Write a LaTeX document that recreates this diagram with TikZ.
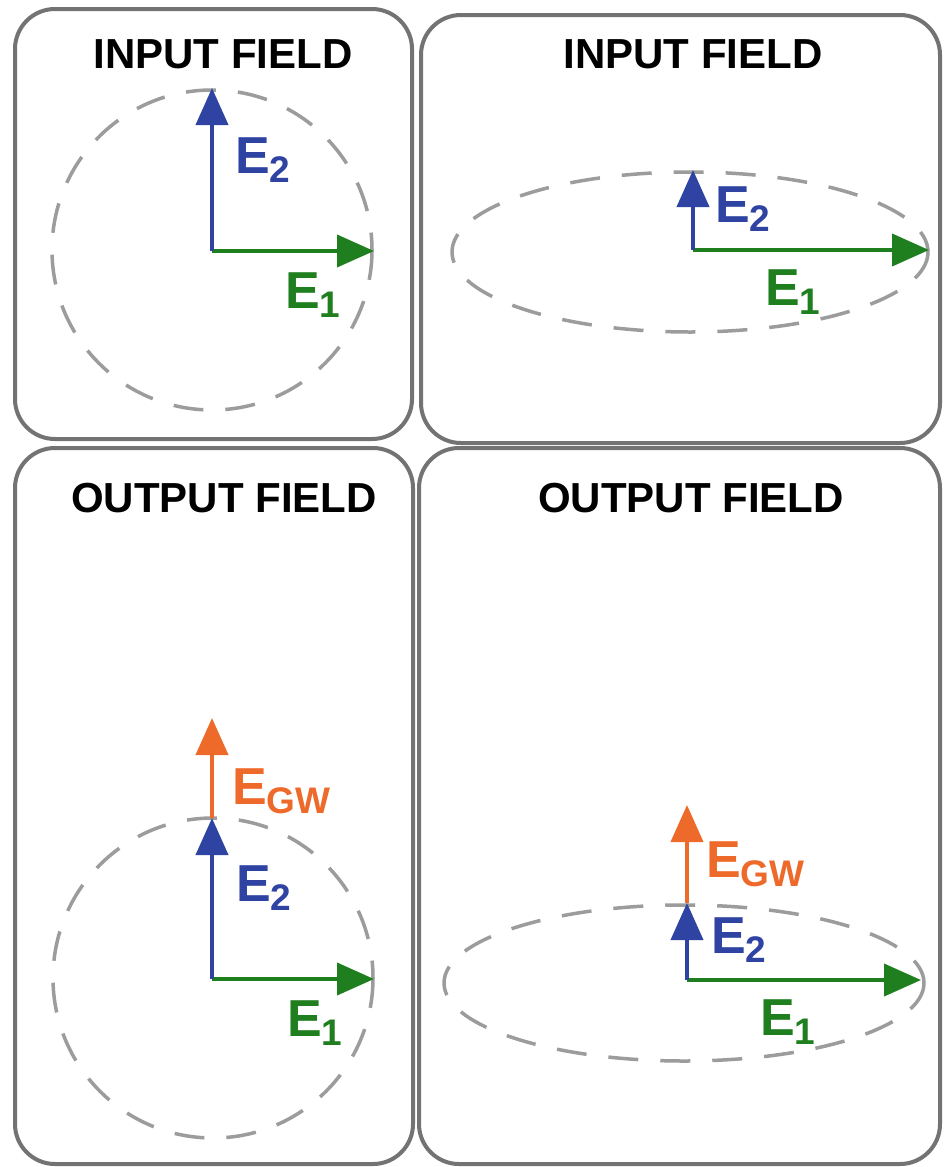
\documentclass[tikz,border=0pt]{standalone}
\usepackage{fontspec}
\setmainfont{Liberation Sans}
\usetikzlibrary{arrows.meta}
\definecolor{frame}{HTML}{737373}
\definecolor{orbit}{HTML}{9C9C9C}
\definecolor{eblue}{HTML}{2E43A2}
\definecolor{egreen}{HTML}{1F7F1F}
\definecolor{eorange}{HTML}{EE6A2A}
\tikzset{
  panel/.style={draw=frame, line width=4pt, rounded corners=40pt},
  orbitline/.style={draw=orbit, line width=3.5pt, dash pattern=on 30pt off 22pt},
  vec/.style={line width=4pt, -{Triangle[length=37pt,width=32pt]}},
  title/.style={anchor=base, inner sep=0pt, font=\fontsize{42}{48}\selectfont\bfseries},
  lab/.style={anchor=base west, inner sep=0pt, font=\fontsize{52}{56}\selectfont\bfseries},
}
\newcommand{\sub}[1]{\raisebox{-9pt}{\fontsize{37}{40}\selectfont #1}}
\begin{document}
\begin{tikzpicture}[x=1pt,y=-1pt]
\useasboundingbox[fill=white] (0,0) rectangle (943,1167);

% panels
\draw[panel] (15,9) rectangle (412,439);
\draw[panel] (421,15) rectangle (940,443);
\draw[panel] (15,448) rectangle (413,1164);
\draw[panel] (419,448) rectangle (940,1164);

% titles
\node[title] (t1) at (223,68) {INPUT FIELD};
\node[title] (t2) at (693,68) {INPUT FIELD};
\node[title] (t3) at (224,512) {OUTPUT FIELD};
\node[title] (t4) at (691,512) {OUTPUT FIELD};

% top left: circular input
\draw[orbitline] (212,250) ellipse [x radius=160, y radius=160];
\coordinate (o1) at (212,251);
\coordinate (a1) at (374,251);
\coordinate (b1) at (212,88);
\draw[vec, egreen] (o1) -- (a1);
\draw[vec, eblue] (o1) -- (b1);
\node[lab, text=eblue] (l1b) at (235,173) {E\sub{2}};
\node[lab, text=egreen] (l1a) at (285,308) {E\sub{1}};

% top right: elliptical input
\draw[orbitline] (690,252) ellipse [x radius=238, y radius=80];
\coordinate (o2) at (693,250);
\coordinate (a2) at (929,250);
\coordinate (b2) at (693,170);
\draw[vec, egreen] (o2) -- (a2);
\draw[vec, eblue] (o2) -- (b2);
\node[lab, text=eblue] (l2b) at (715,222) {E\sub{2}};
\node[lab, text=egreen] (l2a) at (765,305) {E\sub{1}};

% bottom left: circular output
\draw[orbitline] (213,978) ellipse [x radius=160, y radius=160];
\coordinate (o3) at (212,979);
\coordinate (a3) at (374,979);
\coordinate (b3) at (212,818);
\coordinate (c3) at (212,718);
\draw[vec, egreen] (o3) -- (a3);
\draw[vec, eblue] (o3) -- (b3);
\draw[vec, eorange] (b3) -- (c3);
\node[lab, text=eorange] (l3c) at (232,804) {E\sub{GW}};
\node[lab, text=eblue] (l3b) at (236,901) {E\sub{2}};
\node[lab, text=egreen] (l3a) at (287,1036) {E\sub{1}};

% bottom right: elliptical output
\draw[orbitline] (684,983) ellipse [x radius=240, y radius=78];
\coordinate (o4) at (687,980);
\coordinate (a4) at (921,980);
\coordinate (b4) at (687,903);
\coordinate (c4) at (687,805);
\draw[vec, egreen] (o4) -- (a4);
\draw[vec, eblue] (o4) -- (b4);
\draw[vec, eorange] (b4) -- (c4);
\node[lab, text=eorange] (l4c) at (706,877) {E\sub{GW}};
\node[lab, text=eblue] (l4b) at (711,953) {E\sub{2}};
\node[lab, text=egreen] (l4a) at (760,1035) {E\sub{1}};
\end{tikzpicture}
\end{document}
